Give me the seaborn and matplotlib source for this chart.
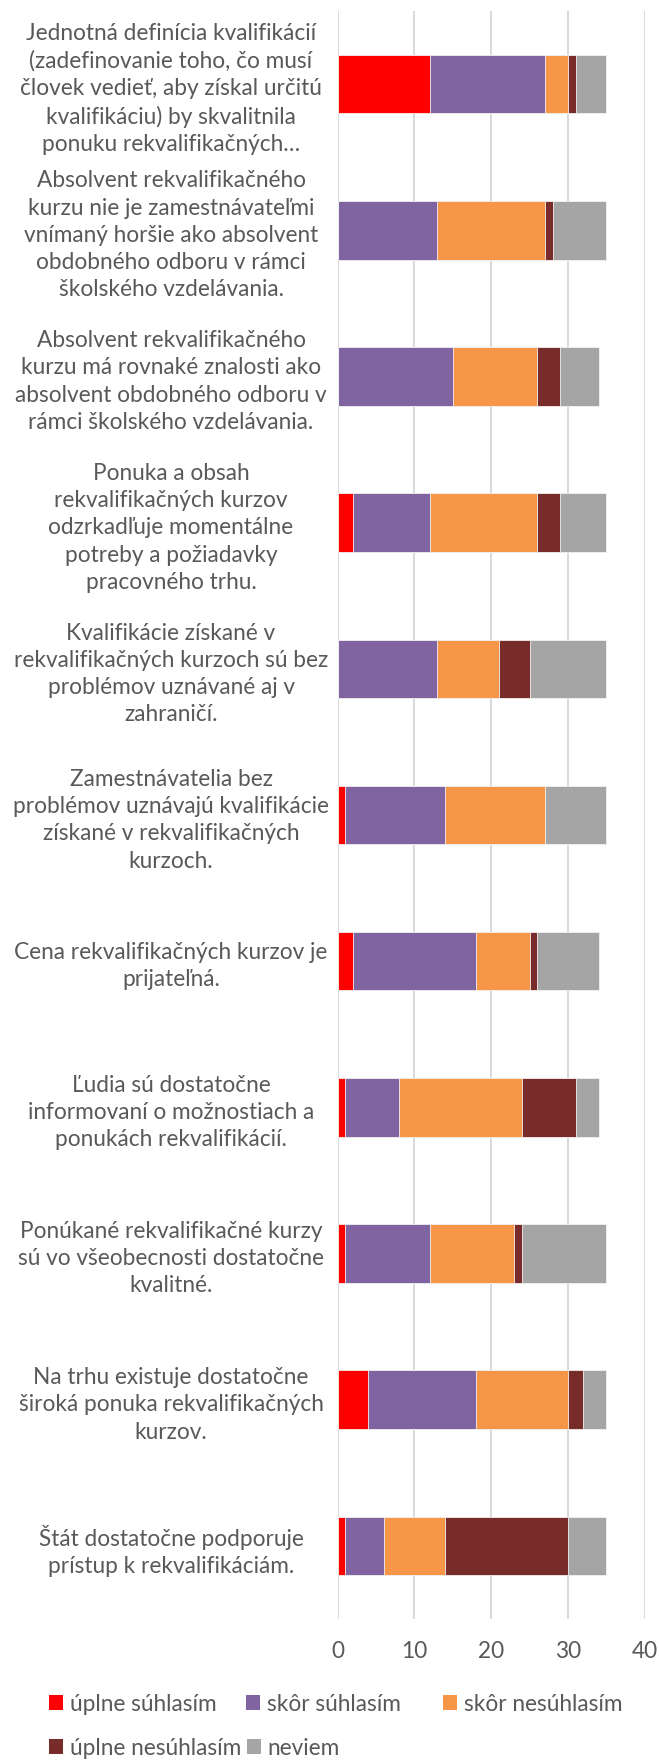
import matplotlib
matplotlib.use("Agg")
import matplotlib.pyplot as plt
import pandas as pd
import seaborn as sns
from matplotlib.patches import Patch

# Otázky (poradie zhora nadol)
otazky = [
    "Jednotná definícia kvalifikácií\n(zadefinovanie toho, čo musí\nčlovek vedieť, aby získal určitú\nkvalifikáciu) by skvalitnila\nponuku rekvalifikačných…",
    "Absolvent rekvalifikačného\nkurzu nie je zamestnávateľmi\nvnímaný horšie ako absolvent\nobdobného odboru v rámci\nškolského vzdelávania.",
    "Absolvent rekvalifikačného\nkurzu má rovnaké znalosti ako\nabsolvent obdobného odboru v\nrámci školského vzdelávania.",
    "Ponuka a obsah\nrekvalifikačných kurzov\nodzrkadľuje momentálne\npotreby a požiadavky\npracovného trhu.",
    "Kvalifikácie získané v\nrekvalifikačných kurzoch sú bez\nproblémov uznávané aj v\nzahraničí.",
    "Zamestnávatelia bez\nproblémov uznávajú kvalifikácie\nzískané v rekvalifikačných\nkurzoch.",
    "Cena rekvalifikačných kurzov je\nprijateľná.",
    "Ľudia sú dostatočne\ninformovaní o možnostiach a\nponukách rekvalifikácií.",
    "Ponúkané rekvalifikačné kurzy\nsú vo všeobecnosti dostatočne\nkvalitné.",
    "Na trhu existuje dostatočne\nširoká ponuka rekvalifikačných\nkurzov.",
    "Štát dostatočne podporuje\nprístup k rekvalifikáciám.",
]

odpovede = ["úplne súhlasím", "skôr súhlasím", "skôr nesúhlasím", "úplne nesúhlasím", "neviem"]
farby = ["#FF0000", "#8064A2", "#F79646", "#772C2A", "#A5A5A5"]

uplne_suhlasim = [12, 0, 0, 2, 0, 1, 2, 1, 1, 4, 1]
skor_suhlasim = [15, 13, 15, 10, 13, 13, 16, 7, 11, 14, 5]
skor_nesuhlasim = [3, 14, 11, 14, 8, 13, 7, 16, 11, 12, 8]
uplne_nesuhlasim = [1, 1, 3, 3, 4, 0, 1, 7, 1, 2, 16]
neviem = [4, 7, 5, 6, 10, 8, 8, 3, 11, 3, 5]

x_ticky = [0, 10, 20, 30, 40]

sns.set_theme(style="white")
plt.rcParams["font.family"] = ["Lato", "DejaVu Sans"]
sivy_text = "#595959"
velkost = 16.3

df = pd.DataFrame(
    dict(zip(odpovede, [uplne_suhlasim, skor_suhlasim, skor_nesuhlasim, uplne_nesuhlasim, neviem])),
    index=otazky,
)
kumul = df.cumsum(axis=1)

W, H = 659, 1760
fig = plt.figure(figsize=(W / 100, H / 100), dpi=100)
ax = fig.add_axes([337.7 / W, 1 - 1619 / H, (644.7 - 337.7) / W, (1619 - 11) / H])

# skladané pruhy: najdlhší súčet najprv, kratšie navrch
for odp, farba in reversed(list(zip(odpovede, farby))):
    sns.barplot(x=kumul[odp].values, y=otazky, color=farba, orient="h",
                width=0.4, saturation=1, edgecolor="#F2F2F2", linewidth=0.6, ax=ax)

ax.set_xlim(0, 40)
ax.set_xticks(x_ticky)
ax.set_xlabel("")
ax.set_ylabel("")
ax.xaxis.grid(True, color="#D9D9D9", linewidth=1.4)
ax.yaxis.grid(False)
ax.set_axisbelow(True)
for s in ax.spines.values():
    s.set_visible(False)

ax.tick_params(axis="y", length=0, pad=120, labelsize=velkost, labelcolor=sivy_text)
ax.tick_params(axis="x", length=0, pad=16, labelsize=velkost, labelcolor=sivy_text)
for lab in ax.get_yticklabels():
    lab.set_horizontalalignment("center")
    lab.set_multialignment("center")
    lab.set_linespacing(1.37)

# legenda – dva riadky ako v Exceli
poz_legendy = [(49, 1704), (246, 1704), (443, 1704), (49, 1748), (247, 1748)]
for odp, farba, (px, py) in zip(odpovede, farby, poz_legendy):
    fig.legend(handles=[Patch(facecolor=farba, edgecolor="none", label=odp)],
               loc="center left", bbox_to_anchor=(px / W, 1 - py / H),
               frameon=False, borderpad=0, borderaxespad=0,
               handlelength=0.62, handleheight=0.62, handletextpad=0.3,
               fontsize=velkost, labelcolor=sivy_text)

fig.savefig("out.png", dpi=100)
